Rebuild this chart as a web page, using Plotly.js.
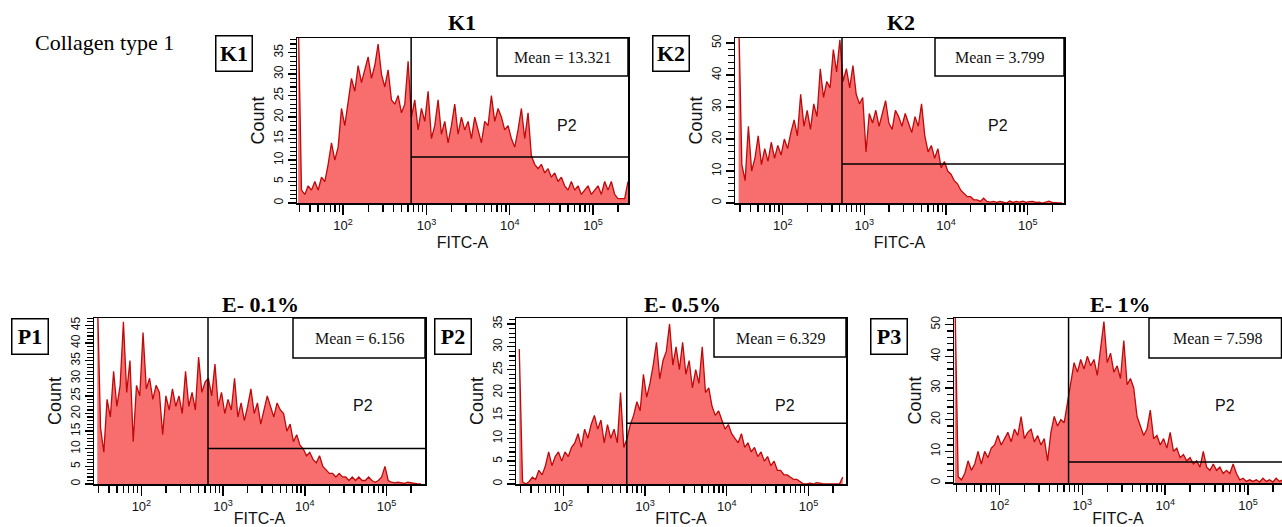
<!DOCTYPE html>
<html>
<head>
<meta charset="utf-8">
<script src="https://cdn.plot.ly/plotly-3.0.1.min.js"></script>
<style>html,body{margin:0;padding:0;background:#fff;}#chart{width:1282px;height:527px;}</style>
</head>
<body>
<div id="chart"></div>
<script>
// ---------- DATA ----------
// histogram bins on a log10(FITC-A) grid
const binLogStart = 1.44;
const binLogWidth = 0.04;

const panelNames = ["K1", "K2", "P1", "P2", "P3"];
const panelTitles = ["K1", "K2", "E- 0.1%", "E- 0.5%", "E- 1%"];
const meanTexts = ["Mean = 13.321", "Mean = 3.799", "Mean = 6.156", "Mean = 6.329", "Mean = 7.598"];
const gateLabel = "P2";
const figureLabel = "Collagen type 1";
const xTickVals = [100, 1000, 10000, 100000];
const xTickText = ["10<sup>2</sup>", "10<sup>3</sup>", "10<sup>4</sup>", "10<sup>5</sup>"];
const xMinorVals = [30,40,50,60,70,80,90,200,300,400,500,600,700,800,900,2000,3000,4000,5000,6000,7000,8000,9000,20000,30000,40000,50000,60000,70000,80000,90000,200000];

const countsK1 = [45,3,2,4,3,5,3,6,5,9, 14,10,13,22,18,24,29,26,32,28, 31,34,29,32,37,30,27,31,24,23,
  25,21,23,33,20,24,17,22,19,26, 15,18,24,16,19,14,18,23,16,20, 17,19,15,20,17,14,19,18,25,19,
  22,20,17,18,15,13,17,22,15,21, 11,9,8,9,7,8,6,7,5,6, 4,3,5,3,4,2,3,4,2,3, 4,2,5,3,5,2,1,1,1,5];
const countsK2 = [60,12,7,24,10,14,21,12,17,13, 19,14,18,15,20,17,22,26,21,34, 24,29,23,31,27,42,33,38,36,48,
  41,51,38,42,36,43,34,31,33,16, 28,25,29,24,28,32,25,23,29,27, 24,28,25,22,27,24,31,21,16,18,
  14,17,11,13,10,9,7,6,4,3, 2,2,1,1,0.5,1.5,0.5,0.3,0.5,0.2, 0.5,0.3,0,0.6,0.2,0.5,0.3,0.6,0.2,0.4,
  0.5,0.2,0.3,0,0.2,0.6,0.2,0,0,0];
const countsP1 = [55,16,9,24,19,32,22,28,46,26, 35,12,28,25,43,27,30,24,28,26, 14,25,21,27,22,25,20,32,22,26,
  21,36,26,29,30,25,34,22,26,20, 24,21,30,19,23,18,22,27,20,23, 17,21,25,22,19,23,21,20,15,17,
  12,14,11,10,8,9,7,6,8,5, 4,3,3,2,3,2,2,1,2,1, 2,1,1,2,1,0.5,1,2,5,1, 0.5,0.3,0.5,0.3,0.2,0.5,0.3,0.2,0,0];
const countsP2 = [29.5,0.5,0,0.5,1.5,1,3,2,4,7, 4,6,7,5,7,6,8,9,11,8, 12,10,13,15,12,14,9,13,10,12,
  9,20,8,10,13,15,18,16,24,19, 22,26,31,23,27,29,35,26,30,25, 31,24,27,21,25,22,30,20,21,17,
  15,16,14,12,13,11,10,9,11,8, 9,7,8,6,7,5,6,4,5,3, 3,2,2,1.5,1,1,0.5,0,0,0.2, 0,0.3,0.2,0,0,0,0,0,0,1.5];
const countsP3 = [60,2,1,3,7,4,6,10,6,10, 8,11,12,15,12,14,16,13,17,15, 21,14,16,17,13,15,12,14,7,16,
  21,18,20,19,25,31,38,35,39,36, 40,37,39,34,42,51,38,41,35,37, 33,45,31,33,30,21,18,15,17,23,
  14,15,12,14,11,16,10,11,8,9, 7,8,6,7,5,10,5,4,6,4, 5,3,4,3,6,3,1,1.5,0.5,1, 0.5,1,0.3,1.5,0.5,1,0.3,1.5,0.5,1];
const allCounts = [countsK1, countsK2, countsP1, countsP2, countsP3];

// gates: FITC-A threshold and count level of the P2 marker
const gateFITC = [655, 532, 653, 597, 681];
const gateCount = [10.7, 12.2, 10.1, 13.3, 6.6];

// ---------- LAYOUT GEOMETRY (pixels) ----------
const W = 1282, H = 527;
const geo = [
  {x0:297, x1:628, y0:38, y1:203, xr:[1.446,5.42], yr:[0,38.4], dt:5, mdt:1, box:[497,76], lab:[233.5,53], tit:[462,22], p2:[567,125], mean:[562,57]},
  {x0:735, x1:1064, y0:38, y1:203, xr:[1.416,5.444], yr:[0,51.6], dt:10, mdt:2, box:[935,76], lab:[670.5,53.5], tit:[901,22], p2:[998,125], mean:[999,57]},
  {x0:94, x1:425, y0:318, y1:484, xr:[1.42,5.47], yr:[0,47.1], dt:5, mdt:1, box:[293,358], lab:[30,336], tit:[260,304], p2:[363,405], mean:[359,338]},
  {x0:516, x1:846, y0:318, y1:484, xr:[1.42,5.46], yr:[0,36.3], dt:5, mdt:1, box:[714,357], lab:[452.5,336], tit:[682,304], p2:[785,405], mean:[780,338]},
  {x0:954, x1:1282, y0:318, y1:483, xr:[1.45,5.41], yr:[0,52.1], dt:10, mdt:2, box:[1149,358], lab:[889,336], tit:[1120,304], p2:[1225,405], mean:[1217,338]}
];

const SANS = "Liberation Sans, Arial, sans-serif";
const SERIF = "Liberation Serif, Times New Roman, serif";
const px = x => x / W;
const py = y => 1 - y / H;

const traces = [], shapes = [], annotations = [];
const layout = {
  width: W, height: H, margin: {l:0, r:0, t:0, b:0},
  paper_bgcolor: "#fff", plot_bgcolor: "#fff", showlegend: false,
  shapes: shapes, annotations: annotations
};

panelNames.forEach((name, k) => {
  const g = geo[k];
  const sfx = k === 0 ? "" : String(k + 1);
  const counts = allCounts[k];
  const xs = counts.map((_, i) => Math.pow(10, binLogStart + binLogWidth * (i + 0.5)));
  traces.push({
    type: "scatter", mode: "lines", x: xs, y: counts,
    xaxis: "x" + sfx, yaxis: "y" + sfx,
    fill: "tozeroy", fillcolor: "rgb(248,110,110)",
    line: {color: "rgb(190,10,10)", width: 1.3, shape: "linear"},
    hoverinfo: "skip"
  });
  layout["xaxis" + sfx] = {
    domain: [px(g.x0), px(g.x1)], anchor: "y" + sfx, type: "log", range: g.xr,
    showline: true, mirror: true, linecolor: "#000", linewidth: 1.5,
    showgrid: false, zeroline: false,
    tickmode: "array", tickvals: xTickVals, ticktext: xTickText,
    ticks: "outside", ticklen: 10, tickwidth: 1.5, tickcolor: "#000",
    tickfont: {family: SANS, size: 13, color: "#111"},
    minor: {tickmode: "array", tickvals: xMinorVals, ticks: "outside", ticklen: 7, tickwidth: 1.4, tickcolor: "#000", showgrid: false},
    title: {text: "FITC-A", font: {family: SANS, size: 16, color: "#111"}, standoff: 4},
    fixedrange: true
  };
  layout["yaxis" + sfx] = {
    domain: [py(g.y1), py(g.y0)], anchor: "x" + sfx, range: g.yr,
    showline: true, mirror: true, linecolor: "#000", linewidth: 1.5,
    showgrid: false, zeroline: false,
    dtick: g.dt, tick0: 0, tickangle: -90,
    ticks: "outside", ticklen: 8, tickwidth: 1.3, tickcolor: "#000",
    tickfont: {family: SANS, size: 12, color: "#111"},
    minor: {dtick: g.mdt, ticks: "outside", ticklen: 6, tickwidth: 1.1, tickcolor: "#000", showgrid: false},
    title: {text: "Count", font: {family: SANS, size: 18, color: "#111"}, standoff: 2},
    fixedrange: true
  };
  // gate lines (domain fractions derived from data values)
  const fx = (Math.log10(gateFITC[k]) - g.xr[0]) / (g.xr[1] - g.xr[0]);
  const xd = "x" + sfx + " domain", yd = "y" + sfx + " domain";
  shapes.push({type: "line", xref: xd, yref: yd, x0: fx, x1: fx, y0: 0, y1: 1, line: {color: "#000", width: 1.5}, layer: "above"});
  shapes.push({type: "line", xref: xd, yref: "y" + sfx, x0: fx, x1: 1, y0: gateCount[k], y1: gateCount[k], line: {color: "#000", width: 1.5}, layer: "above"});
  // mean box
  shapes.push({type: "rect", xref: "paper", yref: "paper", x0: px(g.box[0]), x1: px(Math.min(g.x1, W - 0.5)), y0: py(g.box[1]), y1: py(g.y0),
    line: {color: "#000", width: 1.5}, fillcolor: "#fff", layer: "above"});
  annotations.push({xref: "paper", yref: "paper", x: px(g.mean[0]), y: py(g.mean[1]), text: meanTexts[k], showarrow: false,
    font: {family: SERIF, size: 16, color: "#111"}, xanchor: "center", yanchor: "middle"});
  annotations.push({xref: "paper", yref: "paper", x: px(g.p2[0]), y: py(g.p2[1]), text: gateLabel, showarrow: false,
    font: {family: SANS, size: 16, color: "#111"}, xanchor: "center", yanchor: "middle"});
  // panel title
  annotations.push({xref: "paper", yref: "paper", x: px(g.tit[0]), y: py(g.tit[1]), text: "<b>" + panelTitles[k] + "</b>", showarrow: false,
    font: {family: SERIF, size: 22, color: "#000"}, xanchor: "center", yanchor: "middle"});
  // boxed panel label
  annotations.push({xref: "paper", yref: "paper", x: px(g.lab[0]), y: py(g.lab[1]), text: "<b>" + name + "</b>", showarrow: false,
    font: {family: SERIF, size: 22, color: "#000"}, xanchor: "center", yanchor: "middle",
    bordercolor: "#000", borderwidth: 1.5, bgcolor: "#fff", width: 33, height: 32, borderpad: 1});
});

annotations.push({xref: "paper", yref: "paper", x: px(33), y: py(42), text: figureLabel, showarrow: false,
  font: {family: SERIF, size: 22, color: "#000"}, xanchor: "left", yanchor: "middle"});

Plotly.newPlot("chart", traces, layout, {staticPlot: true, displayModeBar: false});
</script>
</body>
</html>
